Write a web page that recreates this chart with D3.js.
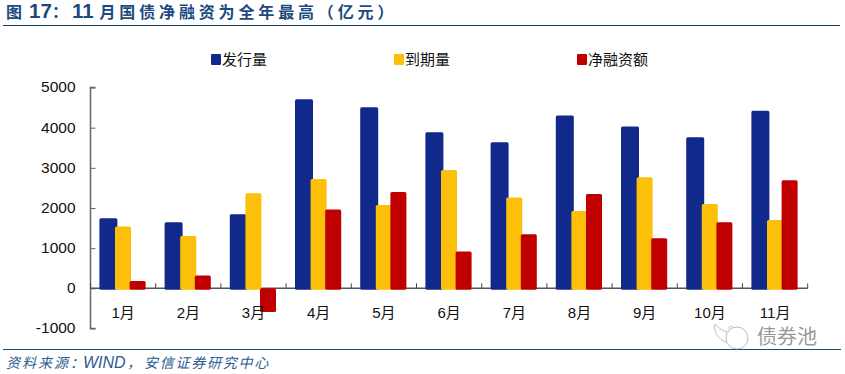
<!DOCTYPE html>
<html><head><meta charset="utf-8">
<script src="https://cdn.jsdelivr.net/npm/d3@7/dist/d3.min.js"></script>
<style>
html,body{margin:0;padding:0;background:#fff;overflow:hidden}
svg{display:block}
text{font-family:"Liberation Sans","Noto Sans CJK SC",sans-serif}
</style></head><body>
<svg id="c" width="845" height="374"></svg>
<script>
const categories=["1月","2月","3月","4月","5月","6月","7月","8月","9月","10月","11月"];
const issuance=[1745,1645,1844,4708,4508,3886,3636,4300,4026,3760,4424];
const maturity=[1537,1304,2367,2723,2076,2947,2259,1927,2765,2101,1703];
const netFinancing=[184,317,-587,1964,2398,914,1346,2350,1246,1645,2690];
const seriesNames=["发行量","到期量","净融资额"];
const seriesColors=["#12298c","#fcc00a","#c00000"];
const yTicks=[-1000,0,1000,2000,3000,4000,5000];
const svg=d3.select("#c");
const x=d3.scaleBand().domain(categories).range([90.5,807.7]);
const y=d3.scaleLinear().domain([-1000,5000]).range([328.5,87.5]);
const barOffset=[8.9,24.5,39.1], barWidth=[18,16,16];
const all=[issuance,maturity,netFinancing];
// title
svg.append("text").attr("y",18).attr("fill","#1c4a80").attr("font-weight",700)
 .selectAll("tspan").data([["图",6,0,16],["17",29,0,20.5],["：",52,0,16],["11",72,0,20.5],["月国债净融资为全年最高（亿元）",99.5,3.85,16]]).join("tspan")
 .attr("x",d=>d[1]).attr("letter-spacing",d=>d[2]).attr("font-size",d=>d[3]).text(d=>d[0]);
svg.append("line").attr("x1",3).attr("x2",840).attr("y1",25.5).attr("y2",25.5).attr("stroke","#17405f");
svg.append("line").attr("x1",3).attr("x2",841).attr("y1",349.5).attr("y2",349.5).attr("stroke","#17506a");
// source
svg.append("text").attr("y",368).attr("fill","#2c5c92").attr("font-style","italic")
 .selectAll("tspan").data([["资料来源：",6,2,14],["WIND",83,0,16],["，",127,0,14],["安信证券研究中心",144,1.75,14]]).join("tspan")
 .attr("x",d=>d[1]).attr("letter-spacing",d=>d[2]).attr("font-size",d=>d[3]).text(d=>d[0]);
// legend
const legX=[211,394,577];
const lg=svg.selectAll("g.l").data(seriesNames).join("g").attr("transform",(d,i)=>`translate(${legX[i]},54)`);
lg.append("rect").attr("width",10).attr("height",11).attr("rx",1).attr("fill",(d,i)=>seriesColors[i]);
lg.append("text").attr("x",11).attr("y",11).attr("font-size",15).attr("fill","#111").text(d=>d);
// axes (beneath the bars)
const ya=svg.append("g").attr("transform","translate(90.5,0)").call(d3.axisLeft(y).tickValues(yTicks).tickFormat(d=>String(d)).tickSize(-5).tickPadding(14));
ya.selectAll("path").attr("stroke","#666").attr("stroke-width",1.5).attr("d",`M5,${y(5000)}H0V${y(-1000)}H5`);
ya.selectAll("line").attr("stroke","#666");
ya.selectAll("text").attr("font-size",15.5).attr("fill","#111").attr("x",-15).attr("dy","0.28em");
const xa=svg.append("g").attr("transform",`translate(0,${y(0)})`).call(d3.axisBottom(x).tickSize(0).tickPadding(19));
xa.select("path").attr("stroke","#555").attr("stroke-width",1.5).attr("d",`M90.5,0H807.7`);
xa.selectAll("text").attr("font-size",15).attr("fill","#111");
svg.append("g").selectAll("line").data(d3.range(12)).join("line")
 .attr("x1",i=>90.5+i*x.bandwidth()).attr("x2",i=>90.5+i*x.bandwidth()).attr("y1",y(0)-5).attr("y2",y(0)).attr("stroke","#444");
// bars
all.forEach((vals,s)=>{
 svg.append("g").selectAll("rect").data(vals).join("rect")
  .attr("x",(d,i)=>x(categories[i])+barOffset[s])
  .attr("width",barWidth[s]).attr("rx",1.5)
  .attr("y",d=>y(Math.max(0,d))).attr("height",d=>Math.abs(y(d)-y(0))+(d>0?1.5:0))
  .attr("fill",seriesColors[s]);
});
// category labels sit above the negative bar
const labelLayer=svg.append("g").attr("transform",`translate(0,${y(0)})`).attr("text-anchor","middle").node();
xa.selectAll(".tick").each(function(){labelLayer.appendChild(this);});
// watermark
const w=svg.append("g").attr("fill","none").attr("stroke","#aaa").attr("stroke-width",.8);
w.append("circle").attr("cx",737).attr("cy",338).attr("r",11);
w.append("path").attr("d","M727,332C720,330 716,325 715,324C713,332 719,340 726,342");
w.append("path").attr("d","M729,329C729,326 731,326 733,327");
svg.append("text").attr("x",757).attr("y",344).attr("font-size",20).attr("fill","#999").text("债券池");
</script></body></html>
